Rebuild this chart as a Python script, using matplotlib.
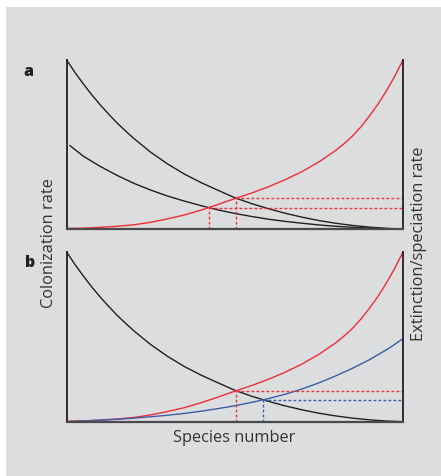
import numpy as np
import matplotlib
matplotlib.use("Agg")
import matplotlib.pyplot as plt
from matplotlib.patches import Rectangle

plt.rcParams['font.family'] = ['Open Sans', 'DejaVu Sans']

# ---- data (x = relative species number 0..1) ----
# colonization (black, high) - shared by both panels
species_col_high = [0.0, 0.025, 0.05, 0.075, 0.1, 0.125, 0.15, 0.175, 0.2, 0.25, 0.3, 0.35,
                    0.4, 0.45, 0.5, 0.55, 0.6, 0.65, 0.7, 0.75, 0.8, 0.85, 0.9, 0.95, 1.0]
colonization_high = [1.0, 0.925, 0.857, 0.793, 0.734, 0.679, 0.627, 0.58, 0.535, 0.454, 0.385,
                     0.325, 0.274, 0.229, 0.185, 0.15, 0.12, 0.093, 0.07, 0.05, 0.034, 0.021,
                     0.011, 0.004, 0.0]
# colonization (black, low) in panel a; starts at x = 0.01
species_col_low = [0.01, 0.05, 0.1, 0.15, 0.2, 0.25, 0.3, 0.35, 0.4, 0.45, 0.5,
                   0.55, 0.6, 0.65, 0.7, 0.75, 0.8, 0.85, 0.9, 0.95, 1.0]
colonization_low = [0.493, 0.43, 0.37, 0.317, 0.27, 0.23, 0.195, 0.165, 0.138, 0.113, 0.092,
                    0.074, 0.058, 0.045, 0.034, 0.024, 0.016, 0.01, 0.005, 0.002, 0.0]
# extinction/speciation (red) - shared by both panels
species_ext_high = [0.0, 0.05, 0.1, 0.15, 0.2, 0.25, 0.3, 0.35, 0.4, 0.45, 0.5, 0.55, 0.6,
                    0.65, 0.7, 0.75, 0.8, 0.825, 0.85, 0.875, 0.9, 0.925, 0.95, 0.975, 1.0]
extinction_high = [0.003, 0.005, 0.01, 0.016, 0.025, 0.04, 0.06, 0.083, 0.112, 0.145, 0.18,
                   0.213, 0.25, 0.292, 0.34, 0.397, 0.465, 0.505, 0.55, 0.605, 0.668, 0.737,
                   0.815, 0.902, 1.0]
# extinction/speciation (blue, panel b)
species_ext_low = [0.0, 0.05, 0.1, 0.15, 0.2, 0.25, 0.3, 0.35, 0.4, 0.45, 0.5,
                   0.55, 0.6, 0.65, 0.7, 0.75, 0.8, 0.85, 0.9, 0.95, 0.975, 1.0]
extinction_low = [0.0, 0.004, 0.009, 0.014, 0.021, 0.029, 0.038, 0.049, 0.062, 0.077, 0.094,
                  0.114, 0.136, 0.162, 0.193, 0.229, 0.27, 0.315, 0.365, 0.423, 0.455, 0.49]

panel_labels = ['a', 'b']
xlabel = 'Species number'
ylabel_left = 'Colonization rate'
ylabel_right = 'Extinction/speciation rate'

BLACK = '#231f20'
RED = '#ee2e34'
BLUE = '#3b5ca8'
BG = '#dcdddf'


def crossing(xa, ya, xb, yb):
    """Equilibrium point where curve a meets curve b (found on a common grid)."""
    lo = max(min(xa), min(xb))
    hi = min(max(xa), max(xb))
    grid = np.linspace(lo, hi, 2001)
    ia = np.interp(grid, xa, ya)
    ib = np.interp(grid, xb, yb)
    d = ia - ib
    i = np.where(np.sign(d[:-1]) != np.sign(d[1:]))[0][0]
    t = d[i] / (d[i] - d[i + 1])
    return grid[i] + t * (grid[i + 1] - grid[i]), ia[i] + t * (ia[i + 1] - ia[i])


fig = plt.figure(figsize=(4.41, 4.76), dpi=100)
bg = Rectangle((6 / 441, 0), 1, 1 - 7 / 476, transform=fig.transFigure,
               facecolor=BG, edgecolor='none', zorder=-10)
fig.add_artist(bg)

L, W = 66.7 / 441, (403 - 66.7) / 441
ax_a = fig.add_axes([L, (476 - 229) / 476, W, 169 / 476])
ax_b = fig.add_axes([L, (476 - 421.7) / 476, W, 169.7 / 476])

for ax in (ax_a, ax_b):
    ax.set_zorder(1)
    ax.patch.set_visible(False)
    ax.set_xlim(0, 1)
    ax.set_ylim(0, 1)
    ax.set_xticks([]); ax.set_yticks([])
    ax.spines['top'].set_visible(False)
    for s in ('left', 'right'):
        ax.spines[s].set_color(BLACK)
        ax.spines[s].set_linewidth(1.3)
    ax.spines['bottom'].set_color('#4a4a4c')
    ax.spines['bottom'].set_linewidth(1.6)

lw = 1.0
dot = (0, (2.0, 1.6))
kw = dict(lw=lw, clip_on=False, solid_joinstyle='round')

# panel a
ax_a.plot(species_col_high, colonization_high, color=BLACK, **kw)
ax_a.plot(species_col_low, colonization_low, color=BLACK, **kw)
ax_a.plot(species_ext_high, extinction_high, color=RED, **kw)
for xs, ys in ((species_col_low, colonization_low), (species_col_high, colonization_high)):
    xc, yc = crossing(species_ext_high, extinction_high, xs, ys)
    ax_a.plot([xc, xc], [0, yc], color=RED, lw=lw, ls=dot)
    ax_a.plot([xc, 1], [yc, yc], color=RED, lw=lw, ls=dot)

# panel b
ax_b.plot(species_col_high, colonization_high, color=BLACK, **kw)
ax_b.plot(species_ext_high, extinction_high, color=RED, **kw)
ax_b.plot(species_ext_low, extinction_low, color=BLUE, **kw)
for xs, ys, col in ((species_ext_high, extinction_high, RED),
                    (species_ext_low, extinction_low, BLUE)):
    xc, yc = crossing(xs, ys, species_col_high, colonization_high)
    ax_b.plot([xc, xc], [0, yc], color=col, lw=lw, ls=dot)
    ax_b.plot([xc, 1], [yc, yc], color=col, lw=lw, ls=dot)

fig.text(28 / 441, 1 - 72 / 476, panel_labels[0], fontsize=11.5, fontweight='heavy',
         color=BLACK, ha='center', va='center')
fig.text(30 / 441, 1 - 263 / 476, panel_labels[1], fontsize=11.5, fontweight='heavy',
         color=BLACK, ha='center', va='center')

fs = 11.8
fig.text(234 / 441, 1 - 438 / 476, xlabel, fontsize=fs, color='#333333',
         ha='center', va='center')
fig.text(49 / 441, 1 - 243 / 476, ylabel_left, fontsize=fs, color='#333333',
         ha='center', va='center', rotation=90)
fig.text(419 / 441, 1 - 243.5 / 476, ylabel_right, fontsize=fs, color='#333333',
         ha='center', va='center', rotation=90)

fig.savefig('out.png', dpi=100, facecolor='white')
